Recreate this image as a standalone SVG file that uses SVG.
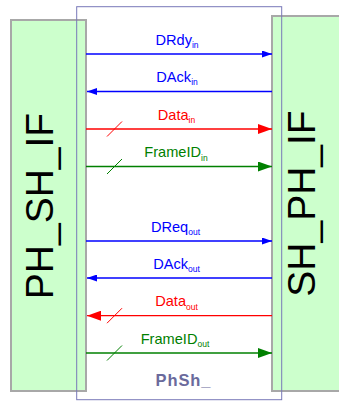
<svg xmlns="http://www.w3.org/2000/svg" width="339" height="401" viewBox="0 0 339 401">
<style>
.if{fill:#ccffcc;stroke:#a8a8a8;stroke-width:2}
.mod{fill:none;stroke:#7878b8;stroke-width:1}
.big{font-family:"Liberation Sans",Arial,sans-serif;font-size:39px;fill:#000}
.lbl{font-family:"Liberation Sans",Arial,sans-serif;font-size:14.6px;text-anchor:middle}
.sub{font-size:8.5px}
.ln{stroke-width:1.3;fill:none}
.sl{stroke-width:1;fill:none}
.b{stroke:#0000ff}.r{stroke:#ff0000}.g{stroke:#008000}
.tb{fill:#0000ff}.tr{fill:#ff0000}.tg{fill:#008000}
.name{font-family:"Liberation Sans",Arial,sans-serif;font-size:16.5px;font-weight:bold;fill:#6a6a9c;text-anchor:middle}
</style>
<defs>
<marker id="ab" viewBox="0 0 10 7" refX="10" refY="3.5" markerWidth="10" markerHeight="7" markerUnits="userSpaceOnUse" orient="auto"><path d="M0,0L10,3.5L0,7z" fill="#0000ff"/></marker>
<marker id="ar" viewBox="0 0 14 10" refX="14" refY="5" markerWidth="14" markerHeight="10" markerUnits="userSpaceOnUse" orient="auto"><path d="M0,0L14,5L0,10z" fill="#ff0000"/></marker>
<marker id="ag" viewBox="0 0 14 10" refX="14" refY="5" markerWidth="14" markerHeight="10" markerUnits="userSpaceOnUse" orient="auto"><path d="M0,0L14,5L0,10z" fill="#008000"/></marker>
</defs>
<g id="PH_SH_IF">
<rect class="if" x="11" y="20" width="75" height="371"/>
<text class="big" text-anchor="middle" transform="translate(52.5,206) rotate(-90)">PH_SH_IF</text>
</g>
<g id="SH_PH_IF">
<rect class="if" x="272" y="16" width="80" height="375"/>
<text class="big" text-anchor="middle" transform="translate(315,203.5) rotate(-90)">SH_PH_IF</text>
</g>
<g id="PhSh">
<rect class="mod" x="76.7" y="6.7" width="205" height="393"/>
<text class="name" x="183" y="385.7" textLength="55" lengthAdjust="spacing">PhSh_</text>
</g>
<g id="connectors">
<line class="ln b" x1="86" y1="54" x2="272" y2="54" marker-end="url(#ab)"/>
<text class="lbl tb" x="177" y="44.5">DRdy<tspan class="sub" dy="3.4">in</tspan></text>
<line class="ln b" x1="272" y1="91.5" x2="87" y2="91.5" marker-end="url(#ab)"/>
<text class="lbl tb" x="177" y="82">DAck<tspan class="sub" dy="3.4">in</tspan></text>
<line class="ln r" x1="86" y1="129" x2="272" y2="129" marker-end="url(#ar)"/>
<line class="sl r" x1="107" y1="136.5" x2="122" y2="121.5"/>
<text class="lbl tr" x="176.5" y="119.5">Data<tspan class="sub" dy="3.4">in</tspan></text>
<line class="ln g" x1="86" y1="166.5" x2="272" y2="166.5" marker-end="url(#ag)"/>
<line class="sl g" x1="107" y1="174" x2="122" y2="159"/>
<text class="lbl tg" x="176" y="157.2">FrameID<tspan class="sub" dy="3.4">in</tspan></text>
<line class="ln b" x1="86" y1="241" x2="272" y2="241" marker-end="url(#ab)"/>
<text class="lbl tb" x="175.5" y="231.5">DReq<tspan class="sub" dy="3.4">out</tspan></text>
<line class="ln b" x1="272" y1="278" x2="87" y2="278" marker-end="url(#ab)"/>
<text class="lbl tb" x="176.5" y="268.5">DAck<tspan class="sub" dy="3.4">out</tspan></text>
<line class="ln r" x1="272" y1="315.7" x2="87" y2="315.7" marker-end="url(#ar)"/>
<line class="sl r" x1="107" y1="323.2" x2="122" y2="308.2"/>
<text class="lbl tr" x="176.5" y="306.2">Data<tspan class="sub" dy="3.4">out</tspan></text>
<line class="ln g" x1="86" y1="353" x2="272" y2="353" marker-end="url(#ag)"/>
<line class="sl g" x1="107" y1="360.5" x2="122" y2="345.5"/>
<text class="lbl tg" x="175" y="343.5">FrameID<tspan class="sub" dy="3.4">out</tspan></text>
</g>
</svg>
